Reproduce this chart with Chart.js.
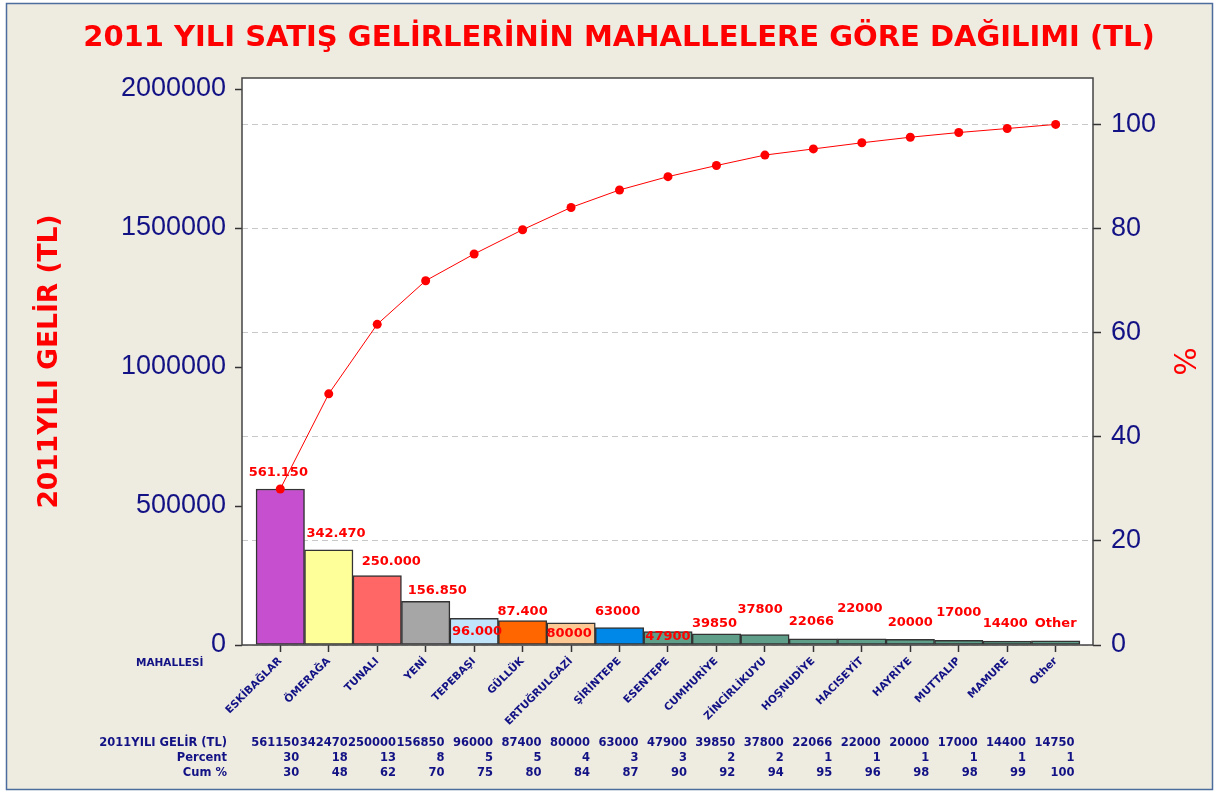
<!DOCTYPE html>
<html>
<head>
  <meta charset="utf-8">
  <title>2011 Yılı Satış Gelirleri - Pareto</title>
  <script src="https://cdn.jsdelivr.net/npm/chart.js"></script>
  <style>
    html, body { margin: 0; padding: 0; background: #ffffff; }
    #chartContainer { width: 1218px; height: 792px; }
  </style>
</head>
<body>
  <div id="chartContainer">
    <canvas id="myChart" width="1218" height="792"></canvas>
  </div>
  <script>
    // data
    const mahalleler = ['ESKİBAĞLAR', 'ÖMERAĞA', 'TUNALI', 'YENİ', 'TEPEBAŞI', 'GÜLLÜK', 'ERTUĞRULGAZİ',
      'ŞİRİNTEPE', 'ESENTEPE', 'CUMHURİYE', 'ZİNCİRLİKUYU', 'HOŞNUDİYE', 'HACISEYİT', 'HAYRİYE',
      'MUTTALIP', 'MAMURE', 'Other'];
    const gelir = [561150, 342470, 250000, 156850, 96000, 87400, 80000, 63000, 47900, 39850,
      37800, 22066, 22000, 20000, 17000, 14400, 14750];
    const percent = [30, 18, 13, 8, 5, 5, 4, 3, 3, 2, 2, 1, 1, 1, 1, 1, 1];
    const cumPercent = [30, 48, 62, 70, 75, 80, 84, 87, 90, 92, 94, 95, 96, 98, 98, 99, 100];
    const cumLine = [29.97, 48.25, 61.60, 69.98, 75.11, 79.77, 84.05, 87.41, 89.97, 92.10,
      94.11, 95.29, 96.47, 97.54, 98.44, 99.21, 100];
    const barTexts = ['561.150', '342.470', '250.000', '156.850', '96.000', '87.400', '80000', '63000',
      '47900', '39850', '37800', '22066', '22000', '20000', '17000', '14400', 'Other'];
    const leftTicks = [0, 500000, 1000000, 1500000, 2000000];
    const rightTicks = [0, 20, 40, 60, 80, 100];

    // label placement (value units / category units) and colours
    const textAt = [621200, 402200, 301600, 193900, 46700, 118500, 39500, 118500, 28700, 75400,
      125700, 82600, 129300, 79000, 114900, 75400, 75400];
    const textShift = [-0.04, 0.15, 0.29, 0.24, 0.06, 0, -0.04, -0.04, 0, -0.04, -0.1, -0.04, -0.04, 0, 0, -0.04, 0];
    const barColors = ['#c64fd0', '#ffff99', '#ff6666', '#a6a6a6', '#c0e4fa', '#ff6600', '#fcc893', '#0088e8',
      '#5f9e88', '#5f9e88', '#5f9e88', '#5f9e88', '#5f9e88', '#5f9e88', '#5f9e88', '#5f9e88', '#5f9e88'];

    const navy = '#121285';
    const leftMax = 2039600;
    const total = gelir.reduce((a, b) => a + b, 0);

    const framePlugin = {
      id: 'frame',
      beforeDraw(chart) {
        const c = chart.ctx;
        const a = chart.chartArea;
        c.save();
        c.fillStyle = '#ffffff';
        c.fillRect(0, 0, chart.width, chart.height);
        c.fillStyle = '#eeebe1';
        c.fillRect(6, 3, 1207, 787);
        c.strokeStyle = '#4b6c9c';
        c.lineWidth = 1.5;
        c.strokeRect(6.5, 3.5, 1206, 786);
        c.fillStyle = '#ffffff';
        c.fillRect(a.left, a.top, a.right - a.left, a.bottom - a.top);
        // title
        c.fillStyle = '#ff0000';
        c.font = 'bold 29px "DejaVu Sans"';
        c.textAlign = 'center';
        c.textBaseline = 'middle';
        c.fillText('2011 YILI SATIŞ GELİRLERİNİN MAHALLELERE GÖRE DAĞILIMI (TL)', 619, 38);
        c.restore();
      },
      afterDatasetDraw(chart, args) {
        if (args.index !== 0) return;
        const c = chart.ctx;
        const x = chart.scales.x, y = chart.scales.y;
        c.save();
        c.fillStyle = '#ff0000';
        c.font = 'bold 13px "DejaVu Sans"';
        c.textAlign = 'center';
        c.textBaseline = 'middle';
        barTexts.forEach((t, i) => {
          c.fillText(t, x.getPixelForValue(i + textShift[i]), y.getPixelForValue(textAt[i]));
        });
        c.restore();
      },
      afterDraw(chart) {
        const c = chart.ctx;
        const a = chart.chartArea;
        const x = chart.scales.x;
        c.save();
        c.strokeStyle = '#444';
        c.lineWidth = 1.5;
        c.strokeRect(a.left, a.top, a.right - a.left, a.bottom - a.top);

        c.fillStyle = navy;
        c.font = 'bold 10.5px "DejaVu Sans"';
        c.textAlign = 'left';
        c.textBaseline = 'middle';
        c.fillText('MAHALLESİ', 136, 663);

        // table under the chart
        const rows = [
          ['2011YILI GELİR (TL)', gelir],
          ['Percent', percent],
          ['Cum %', cumPercent]
        ];
        c.font = 'bold 11.5px "DejaVu Sans"';
        c.textAlign = 'right';
        rows.forEach((r, k) => {
          const ty = 743 + k * 15;
          c.fillText(r[0], 227, ty);
          r[1].forEach((v, i) => {
            c.fillText(String(v), x.getPixelForValue(i + 0.39), ty);
          });
        });
        c.restore();
      }
    };

    const ctx = document.getElementById('myChart').getContext('2d');
    const chart = new Chart(ctx, {
      data: {
        datasets: [
          {
            type: 'bar',
            label: '2011YILI GELİR (TL)',
            data: gelir.map((v, i) => ({ x: i, y: v })),
            backgroundColor: barColors,
            borderColor: '#333333',
            borderWidth: 1.5,
            borderSkipped: false,
            barPercentage: 1,
            categoryPercentage: 1,
            yAxisID: 'y',
            order: 1
          },
          {
            type: 'line',
            label: 'Cum %',
            data: cumLine.map((v, i) => ({ x: i, y: v })),
            borderColor: '#ff0000',
            borderWidth: 1,
            pointRadius: 4.5,
            pointBorderWidth: 0,
            pointBackgroundColor: '#ff0000',
            tension: 0,
            yAxisID: 'y1',
            order: 0
          }
        ]
      },
      options: {
        responsive: false,
        animation: false,
        devicePixelRatio: 1,
        layout: { padding: { top: 78, left: 0, right: 0, bottom: 0 } },
        plugins: {
          legend: { display: false },
          tooltip: { enabled: false }
        },
        scales: {
          x: {
            type: 'linear',
            min: -0.79,
            max: 16.77,
            offset: false,
            bounds: 'data',
            afterBuildTicks: s => { s.ticks = mahalleler.map((_, i) => ({ value: i })); },
            afterFit: s => { s.height = 147; },
            grid: { offset: false, drawOnChartArea: false, tickLength: 7, tickColor: '#333', tickWidth: 1.5 },
            border: { display: false },
            ticks: {
              autoSkip: false,
              minRotation: 45,
              maxRotation: 45,
              padding: 3,
              color: navy,
              font: { family: 'DejaVu Sans', size: 10.5, weight: 'bold' },
              callback: v => mahalleler[v]
            }
          },
          y: {
            position: 'left',
            min: 0,
            max: leftMax,
            afterBuildTicks: s => { s.ticks = leftTicks.map(v => ({ value: v })); },
            afterFit: s => { s.width = 242; },
            grid: { drawOnChartArea: false, tickLength: 7, tickColor: '#333', tickWidth: 1.5 },
            border: { display: false },
            ticks: {
              padding: 9,
              color: navy,
              font: { family: 'Liberation Sans', size: 27 },
              callback: v => String(v)
            },
            title: {
              display: true,
              text: '2011YILI GELİR (TL)',
              color: '#ff0000',
              font: { family: 'DejaVu Sans', size: 26.5, weight: 'bold' },
              padding: { top: 34, bottom: 0 }
            }
          },
          y1: {
            position: 'right',
            min: 0,
            max: leftMax / total * 100,
            afterBuildTicks: s => { s.ticks = rightTicks.map(v => ({ value: v })); },
            afterFit: s => { s.width = 125; },
            grid: {
              drawOnChartArea: true,
              color: '#c8c8c8',
              lineWidth: 1,
              borderDash: [6, 4],
              tickLength: 8,
              tickColor: '#333',
              tickWidth: 1.5,
              tickBorderDash: []
            },
            border: { display: false, dash: [6, 4] },
            ticks: {
              padding: 10,
              color: navy,
              font: { family: 'Liberation Sans', size: 27 },
              callback: v => String(v)
            },
            title: {
              display: true,
              text: '%',
              color: '#ff0000',
              font: { family: 'DejaVu Sans', size: 30 },
              padding: { top: 18, bottom: 0 }
            }
          }
        }
      },
      plugins: [framePlugin]
    });
  </script>
</body>
</html>
